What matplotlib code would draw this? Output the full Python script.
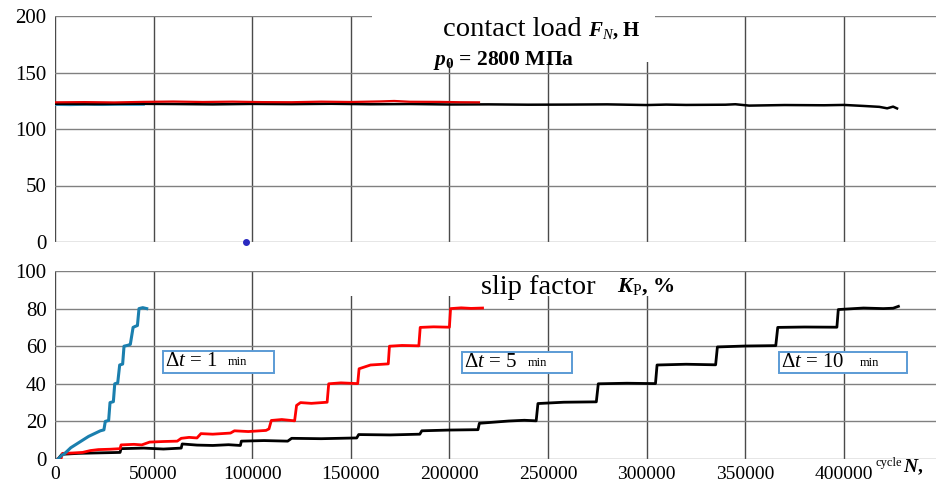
import matplotlib
matplotlib.use("Agg")
import matplotlib.pyplot as plt
from matplotlib.patches import Rectangle

plt.rcParams['font.family'] = ['Liberation Serif', 'DejaVu Serif']
plt.rcParams['mathtext.fontset'] = 'custom'
plt.rcParams['mathtext.rm'] = 'Liberation Serif'
plt.rcParams['mathtext.it'] = 'Liberation Serif:italic'
plt.rcParams['mathtext.bf'] = 'Liberation Serif:bold'
plt.rcParams['mathtext.bfit'] = 'Liberation Serif:italic:bold'

# ---- contact load F_N (top panel) ----
load1_n = [0, 8000, 16000, 24000, 32000, 40000, 45000]
load1_v = [121.4, 121.2, 121.6, 121.3, 121.5, 121.4, 121.5]

load5_n = [0, 15000, 30000, 45000, 60000, 75000, 90000, 105000, 120000,
           135000, 150000, 165000, 172000, 180000, 195000, 205000, 215000]
load5_v = [123.6, 123.8, 123.5, 124.0, 124.3, 123.9, 124.2, 123.8, 123.7,
           124.2, 123.9, 124.4, 124.8, 124.1, 124.0, 123.7, 123.6]

load10_n = [0, 20000, 40000, 60000, 80000, 100000, 120000, 140000, 160000,
            180000, 200000, 220000, 240000, 260000, 280000, 300000, 310000,
            320000, 340000, 345000, 352000, 370000, 390000, 400000, 410000,
            418000, 422000, 425000, 427000]
load10_v = [122.2, 122.0, 122.3, 122.1, 121.8, 122.2, 122.0, 122.3, 121.9,
            122.1, 121.7, 121.8, 121.5, 121.6, 121.8, 121.2, 121.6,
            121.3, 121.5, 121.9, 120.7, 121.2, 121.0, 121.3, 120.4,
            119.6, 118.3, 119.8, 118.2]

stray_n = [96700]
stray_v = [0]

# ---- slip factor K_p (bottom panel) ----
kp1_n = [1500, 3500, 5000, 8000, 11000, 14000, 17000, 19000, 21000, 23000,
         24800, 25500, 27200, 27900, 29600, 30300, 31800, 32800, 34300, 35000,
         37000, 38200, 39600, 40600, 41800, 42600, 44500, 46500]
kp1_v = [0, 2, 3, 6, 8, 10, 12, 13, 14, 15,
         15.5, 20, 20.5, 30, 30.5, 40, 40.5, 50, 50.5, 60,
         60.5, 61, 70, 70.5, 71, 80, 80.5, 80]

kp5_n = [1500, 3000, 3800, 9000, 14000, 18000, 22000, 28000, 33000, 33500,
         40000, 44000, 48000, 55000, 62000, 64000, 68000, 72000, 74000, 80000,
         89000, 91000, 98000, 107000, 108500, 109700, 115000, 121500, 122500,
         124500, 130000, 138000, 138800, 145000, 153500, 154200, 160000,
         169000, 169600, 176000, 184500, 185200, 192000, 200000, 200600,
         206000, 211000, 216800]
kp5_v = [0, 0, 3, 3.2, 3.5, 4.5, 5, 5.2, 5.5, 7.5,
         7.8, 7.5, 9, 9.3, 9.5, 11, 11.5, 11.2, 13.5, 13.2,
         13.8, 15, 14.6, 15.2, 16, 20.5, 21, 20.3, 28.5,
         30, 29.6, 30.2, 40, 40.5, 40.1, 48, 50,
         50.6, 60, 60.4, 60.2, 70, 70.3, 70.1, 80,
         80.4, 80.1, 80.3]

kp10_n = [1500, 3500, 12000, 20000, 33000, 33500, 45000, 55000, 64000, 64500,
          72000, 80000, 88000, 94000, 94500, 106000, 118000, 120000, 135000,
          153000, 154000, 170000, 185000, 186000, 200000, 214500, 215200,
          230000, 238000, 244000, 244900, 258000, 274500, 275500, 290000,
          304500, 305300, 320000, 335000, 335900, 350000, 365500, 366500,
          380000, 396500, 397200, 410000, 420000, 425000, 427700]
kp10_v = [0, 2.5, 3, 3.2, 3.5, 5.5, 5.8, 5.3, 5.8, 8,
          7.4, 7.2, 7.6, 7.2, 9.5, 9.8, 9.5, 11, 10.8,
          11.2, 13, 12.8, 13.2, 15, 15.4, 15.6, 19,
          20.2, 20.6, 20.3, 29.5, 30.2, 30.4, 40, 40.3,
          40.1, 50, 50.4, 50.1, 59.6, 60.1, 60.3, 70,
          70.2, 70.1, 79.5, 80.3, 80.0, 80.2, 81.2]

xticks = [0, 50000, 100000, 150000, 200000, 250000, 300000, 350000, 400000]

W, H = 936, 487
fig = plt.figure(figsize=(W / 100, H / 100), dpi=100)


def px(x, y):
    return x / W, 1 - y / H


x_max = (W - 55) / 98.6 * 50000
ax1 = fig.add_axes([55 / W, (H - 242) / H, (W - 55) / W, 226 / H])
ax2 = fig.add_axes([55 / W, (H - 459) / H, (W - 55) / W, 188 / H])

for ax in (ax1, ax2):
    ax.set_xlim(0, x_max)
    ax.set_xticks(xticks)
    for s in ax.spines.values():
        s.set_visible(False)
    ax.tick_params(length=0)
    ax.grid(True, axis='x', color='#4a4a4a', lw=1.0)
    ax.grid(True, axis='y', color='#808080', lw=1.0)
    ax.set_axisbelow(True)

ax1.set_ylim(0, 200)
ax1.set_yticks([0, 50, 100, 150, 200])
ax1.tick_params(axis='x', labelbottom=False)
ax1.tick_params(axis='y', labelsize=15, pad=6)
ax1.plot(load1_n, load1_v, color='#3aa8d8', lw=1.6)
ax1.plot(load10_n, load10_v, color='black', lw=1.8)
ax1.plot(load5_n, load5_v, color='#e00000', lw=1.6)
ax1.plot(stray_n, stray_v, 'o', color='#2a2ac0', ms=4, clip_on=False)

ax2.set_ylim(0, 100)
ax2.set_yticks([0, 20, 40, 60, 80, 100])
ax2.tick_params(axis='y', labelsize=15, pad=6)
ax2.tick_params(axis='x', labelsize=14, pad=5)
ax2.plot(kp10_n, kp10_v, color='black', lw=2.0)
ax2.plot(kp5_n, kp5_v, color='#ff0000', lw=2.0)
ax2.plot(kp1_n, kp1_v, color='#1a7fae', lw=2.2)

# white patches behind the titles
fig.patches.append(Rectangle(px(372, 62), (655 - 372) / W, 49 / H,
                             transform=fig.transFigure, facecolor='white',
                             edgecolor='none', zorder=2))
fig.patches.append(Rectangle(px(300, 296), (690 - 300) / W, 24 / H,
                             transform=fig.transFigure, facecolor='white',
                             edgecolor='none', zorder=2))

fig.text(*px(443, 29), 'contact load', fontsize=20.5, va='center', zorder=3)
fig.text(*px(588, 31), r'$\mathbfit{F}_{\mathit{N}}$' + ', Н',
         fontsize=15, fontweight='bold', va='center', zorder=3)
fig.text(*px(433, 60), r'$\mathbfit{p}_{\mathbf{0}}$ = 2800 МПа',
         fontsize=15.5, fontweight='bold', va='center', zorder=3)

fig.text(*px(481, 288), 'slip factor', fontsize=20.5, va='center', zorder=3)
fig.text(*px(617, 287), r'$\mathbfit{K}_{\mathrm{P}}$' + ', %',
         fontsize=16, fontweight='bold', va='center', zorder=3)

# delta t boxes
boxes = [(163, 351, 274, 373, '1', 228), (462, 352, 572, 373, '5', 528),
         (779, 352, 907, 373, '10', 860)]
for x0, y0, x1, y1, lab, xm in boxes:
    fig.patches.append(Rectangle(px(x0, y1), (x1 - x0) / W, (y1 - y0) / H,
                                 transform=fig.transFigure, facecolor='white',
                                 edgecolor='#5b9bd5', lw=1.4, zorder=2))
    fig.text(*px(x0 + 2, (y0 + y1) / 2), r'$\Delta t$ = ' + lab,
             fontsize=15, va='center', zorder=3)
    fig.text(*px(xm, (y0 + y1) / 2), 'min', fontsize=9, va='center', zorder=3)

fig.text(*px(875, 463), 'cycle', fontsize=9, va='center')
fig.text(*px(903, 467), r'$\mathbfit{N}$,', fontsize=14, fontweight='bold',
         va='center')

fig.savefig('out.png', dpi=100)
